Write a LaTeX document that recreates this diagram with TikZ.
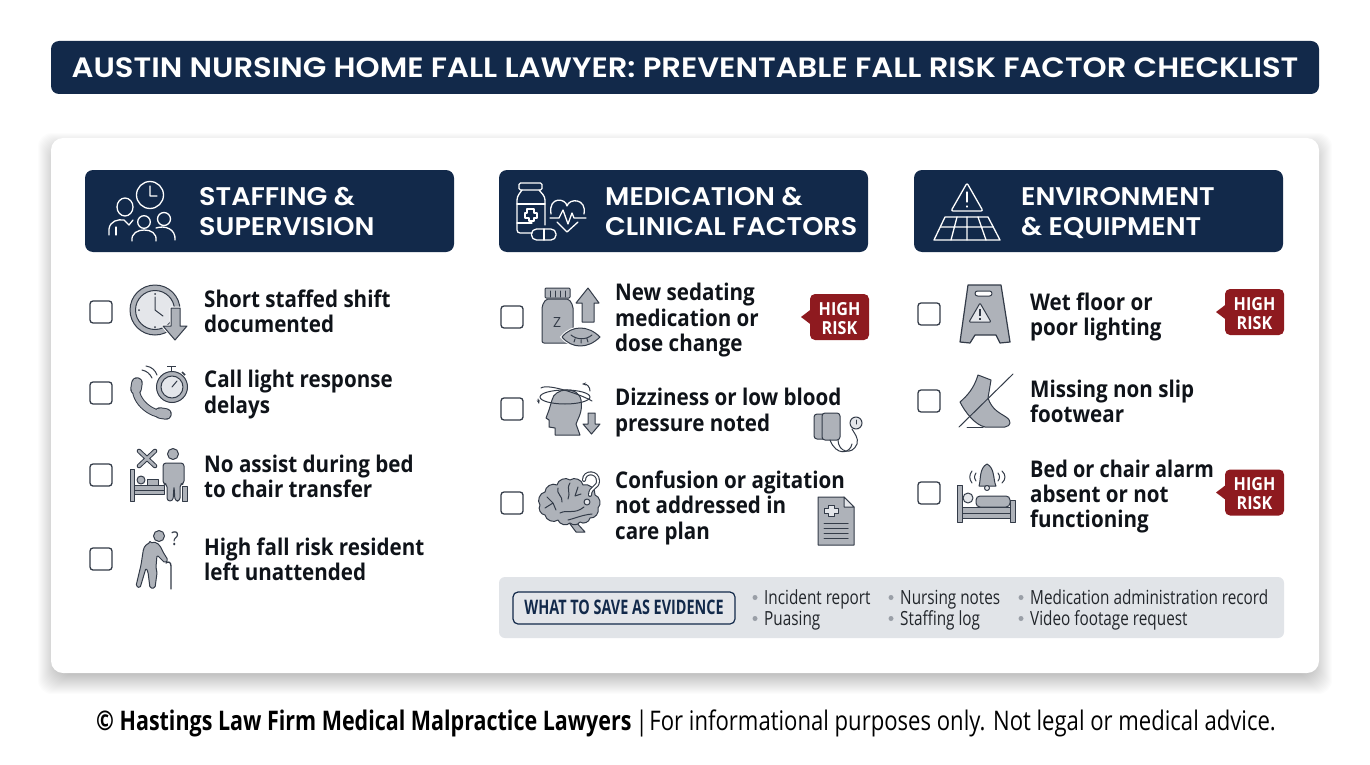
\documentclass[tikz,border=0pt]{standalone}
\usepackage{fontspec}
\setmainfont{Open Sans}
\newfontfamily\titlef[FakeStretch=1.095]{Poppins SemiBold}
\newfontfamily\headf[FakeStretch=1.06]{Poppins SemiBold}
\newfontfamily\bodyf[FakeStretch=0.895]{Open Sans}
\newfontfamily\bodyg[FakeStretch=0.865]{Open Sans}
\newfontfamily\narrowf[FakeStretch=0.785]{Open Sans}
\newfontfamily\labelf[FakeStretch=0.72]{Open Sans}
\newfontfamily\footf[FakeStretch=0.818]{Open Sans}
\newfontfamily\footb[FakeStretch=0.795]{Open Sans}
\newcommand{\lst}{\rule[-7.3pt]{0pt}{25.3pt}}
\newcommand{\hst}{\rule[-8pt]{0pt}{30pt}}
\usetikzlibrary{arrows.meta}
\definecolor{navy}{HTML}{12294A}
\definecolor{icg}{HTML}{AEB2B9}
\definecolor{icd}{HTML}{333B48}
\definecolor{icl}{HTML}{E4E6EA}
\definecolor{band}{HTML}{E1E4E8}
\definecolor{riskred}{HTML}{8E1A1F}
\definecolor{inkc}{HTML}{0F1319}
\definecolor{bult}{HTML}{9A9FA7}
\tikzset{
 titlebar/.style={fill=navy,rounded corners=8pt,inner sep=0,minimum width=1268pt,minimum height=53pt},
 headbar/.style={fill=navy,rounded corners=8pt,inner sep=0,minimum width=369pt,minimum height=82pt},
 headtext/.style={text=white,anchor=west,align=left,inner sep=0,font=\headf\fontsize{25.5}{30}\selectfont},
 itemtext/.style={text=inkc,anchor=west,align=left,inner sep=0,font=\bodyf\bfseries\fontsize{23}{25.3}\selectfont},
 checkbox/.style={draw=icd,line width=1.3pt,fill=white,rounded corners=3pt,minimum width=22pt,minimum height=22pt,inner sep=0},
 riskbadge/.style={fill=riskred,rounded corners=5pt,minimum width=59pt,minimum height=46pt,inner sep=0},
 risktext/.style={inner sep=0,text=white,align=center,font=\bodyf\bfseries\fontsize{18}{19}\selectfont},
 evtext/.style={text=inkc!92,anchor=base west,inner sep=0,font=\narrowf\fontsize{19.5}{20}\selectfont},
 evdot/.style={circle,fill=bult,minimum size=5pt,inner sep=0},
 ic/.style={draw=icd,fill=icg,line width=1pt,line join=round},
 icw/.style={draw=white,line width=1.3pt,line join=round,line cap=round},
 icl1/.style={draw=icd,line width=1pt,line cap=round,line join=round},
}
\begin{document}
\begin{tikzpicture}[x=1pt,y=1pt,yscale=-1]
\useasboundingbox (0,0) rectangle (1370,765);
\fill[white] (0,0) rectangle (1370,765);
% title
\node[titlebar] (title) at (685,67.5) {};
\node[text=white,inner sep=0,font=\titlef\fontsize{28}{30}\selectfont] (titletext) at (685,67.5) {AUSTIN NURSING HOME FALL LAWYER: PREVENTABLE FALL RISK FACTOR CHECKLIST};
% card with soft shadow
\foreach \s in {13,12,...,-8}{
 \fill[black,opacity=0.011,rounded corners=14pt] (51-\s,138-\s+8) rectangle (1319+\s,673+\s+8);
}
\node[fill=white,rounded corners=12pt,minimum width=1268pt,minimum height=535pt,inner sep=0] (card) at (685,405.5) {};
% headers
\node[headbar] (h1) at (269.5,211) {};
\node[headbar] (h2) at (683.5,211) {};
\node[headbar] (h3) at (1098.5,211) {};
\node[headtext] (h1t) at (199,213) {\hst STAFFING \&\\\hst SUPERVISION};
\node[headtext] (h2t) at (605,213) {\hst MEDICATION \&\\\hst CLINICAL FACTORS};
\node[headtext] (h3t) at (1021,213) {\hst ENVIRONMENT\\\hst \& EQUIPMENT};
% checkboxes
\foreach \n/\x/\y in {a/101/312,b/101/393,c/101/475,d/101/559,e/512/317,f/512/409,g/512/503,k/929/314,l/929/401,m/929/493}{
 \node[checkbox] (cb\n) at (\x,\y) {};
}
% item texts
\node[itemtext] (ta) at (204,314.7) {\lst Short staffed shift\\\lst documented};
\node[itemtext] (tb) at (204,395.2) {\lst Call light response\\\lst delays};
\node[itemtext] (tc) at (204,479.4) {\lst No assist during bed\\\lst to chair transfer};
\node[itemtext] (td) at (204,562.7) {\lst High fall risk resident\\\lst left unattended};
\node[itemtext] (te) at (615,320.7) {\lst New sedating\\\lst medication or\\\lst dose change};
\node[itemtext] (tf) at (615,413.2) {\lst Dizziness or low blood\\\lst pressure noted};
\node[itemtext] (tg) at (615,508.4) {\lst Confusion or agitation\\\lst not addressed in\\\lst care plan};
\node[itemtext] (tk) at (1030,317.7) {\lst Wet floor or\\\lst poor lighting};
\node[itemtext] (tl) at (1030,404.7) {\lst Missing non slip\\\lst footwear};
\node[itemtext] (tm) at (1030,497.2) {\lst {\bodyg\bfseries Bed or chair alarm}\\\lst absent or not\\\lst functioning};
% badges
\foreach \n/\x/\y in {1/839.5/317,2/1254.5/312,3/1254.5/492.5}{
 \fill[riskred] (\x-38.5,\y) -- (\x-28,\y-8) -- (\x-28,\y+8) -- cycle;
 \node[riskbadge] (rb\n) at (\x,\y) {};
 \node[risktext] (rt\n) at (\x,\y+1.5) {HIGH\\RISK};
}
% evidence band
\node[fill=band,rounded corners=6pt,minimum width=785pt,minimum height=61pt,inner sep=0] (evband) at (891.5,607.5) {};
\node[draw=navy,line width=1.2pt,fill=icl,rounded corners=5pt,minimum width=222pt,minimum height=32pt,inner sep=0] (evlabel) at (624,608) {};
\node[inner sep=0,text=navy,anchor=base,font=\labelf\bfseries\fontsize{20}{20}\selectfont] (evlabeltext) at (624,614.5) {WHAT TO SAVE AS EVIDENCE};
\foreach \n/\x/\y/\t in {p/764/604/Incident report,q/764/625/Puasing,r/900/604/Nursing notes,s/900/625/Staffing log,u/1030/604/Medication administration record,v/1030/625/Video footage request}{
 \node[evtext] (ev\n) at (\x,\y) {\t};
 \node[evdot] (dot\n) at (\x-9,\y-6.5) {};
}
% footer
\node[anchor=base west,inner sep=0,text=black,font=\fontsize{27}{30}\selectfont] (foot) at (96,730) {{\footb\bfseries © Hastings Law Firm Medical Malpractice Lawyers} \hspace{-3pt}{\footf |\hspace{-4pt} For informational purposes only. Not legal or medical advice.}};

% ---------- header icons
% staffing
\draw[icw] (150,195) circle (13.5) (150,186) -- (150,196) -- (157,196);
\draw[icw] (125,207) ellipse (8 and 9);
\draw[icw] (109,235) -- (109,229) .. controls (110,221) and (118,219) .. (124,220) -- (129,225) -- (133,220) ;
\draw[icw] (116,227) -- (116,235);
\draw[icw] (144,222) circle (6.3);
\draw[icw] (132,241) .. controls (131,233) and (138,230) .. (144,230) .. controls (151,230) and (157,233) .. (156,241);
\draw[icw] (164,219) circle (6.5);
\draw[icw] (156,228) .. controls (165,225) and (176,229) .. (175,240);
% medication
\draw[icw,rounded corners=1.5pt] (519,183) rectangle (542,190);
\draw[icw,rounded corners=3pt] (522,190) -- (517,197) -- (517,233) -- (532,233);
\draw[icw,rounded corners=3pt] (539,190) -- (545,197) -- (545,225);
\draw[icw] (517,204) -- (545,204) (517,223) -- (532,223);
\draw[icw] (527,209) -- (534,209) -- (534,213) -- (537,213) -- (537,218) -- (534,218) -- (534,221) -- (529,221) -- (529,218) -- (525,218) -- (525,213) -- (527,213) -- cycle;
\draw[icw,rounded corners=5pt] (531.5,229) rectangle (556,240);
\draw[icw] (544,229) -- (544,240);
\draw[icw] (551,214) .. controls (548,196) and (566,198) .. (567,206) .. controls (569,198) and (587,198) .. (584,214);
\draw[icw] (550,218) -- (559,218) -- (563,210) -- (568,224) -- (572,213) -- (574,218) -- (586,218);
\draw[icw] (557,222) -- (567,232) -- (578,222);
% environment
\draw[icw,rounded corners=2pt] (967,183) -- (983,211) -- (951,211) -- cycle;
\draw[icw] (967,192) -- (967,202) (967,206) -- (967,207);
\draw[icw] (945,217) -- (988,217) -- (1000,240) -- (934,240) -- cycle;
\draw[icw] (940.5,227) -- (993.5,227) (957,217) -- (951,240) (967,217) -- (967,240) (978,217) -- (986,240);

% ---------- item icons, column 1
% clock
\draw[ic,fill=icg] (155,310) circle (25);
\draw[ic,fill=icl] (155,310) circle (19.5);
\draw[icl1] (155,297) -- (155,310) -- (163,316);
\foreach \a/\b in {155/294,155/327,139/310,171/310}{\fill[icd] (\a,\b) circle (1);}
\draw[draw=white,line width=3pt,fill=icg,line join=round] (171,308) -- (180,308) -- (180,326) -- (187,326) -- (175,340) -- (163,326) -- (171,326) -- cycle;
\draw[ic] (171,308) -- (180,308) -- (180,326) -- (187,326) -- (175,340) -- (163,326) -- (171,326) -- cycle;
% call light
\draw[icd,line width=11.5pt,line cap=round] (137,383) -- (136,389);
\draw[icd,line width=11.5pt,line cap=round] (160,413) -- (166,414);
\draw[icd,line width=8pt,line cap=round] (137,383) .. controls (131,398) and (150,416) .. (166,414);
\draw[icg,line width=9.5pt,line cap=round] (137,383) -- (136,389);
\draw[icg,line width=9.5pt,line cap=round] (160,413) -- (166,414);
\draw[icg,line width=6pt,line cap=round] (137,383) .. controls (131,398) and (150,416) .. (166,414);
\draw[icl1] (142,370) .. controls (147,371) and (150,374) .. (152,378);
\draw[icl1] (146,366) .. controls (152,367) and (155,370) .. (157,375);
\draw[ic] (172,387) circle (15.5);
\draw[ic,fill=icl] (172,387) circle (11);
\draw[icl1] (172,387) -- (177,381);
\draw[icd,line width=1.5pt] (167,366.5) -- (176,366.5) (171.5,366.5) -- (171.5,371);
\draw[icd,line width=1.5pt] (182,372) -- (185,375);
% bed + person
\draw[ic] (130,469) rectangle (134,501);
\draw[ic] (134,490) rectangle (164,494);
\draw[ic] (141,480) circle (4);
\draw[ic] (147,479) rectangle (158,486);
\draw[ic] (134,485) rectangle (164,490);
\draw[draw=icd,line width=4.6pt,line cap=round] (139,451) -- (155,466) (155,451) -- (139,466);
\draw[draw=icg,line width=2.6pt,line cap=round] (139,451) -- (155,466) (155,451) -- (139,466);
\draw[ic] (173,454) circle (5.5);
\draw[ic,rounded corners=3pt] (163,463) -- (184,463) -- (184,484) -- (180,484) -- (180,501) -- (175,501) -- (174,486) -- (173,501) -- (167,501) -- (167,484) -- (163,484) -- cycle;
\draw[ic] (182,486) rectangle (187,501);
% elderly
\draw[ic] (159,536) circle (5.5);
\draw[ic,rounded corners=1.5pt] (150,543) .. controls (157,541) and (160,545) .. (163,552) -- (168,560) -- (165,563) -- (157,555) -- (156,567) -- (157,573) -- (155,588) -- (150,588) -- (148,572) -- (146,568) -- (140,588) -- (136,586) -- (141,565) -- (143,552) .. controls (144,546) and (147,544) .. (150,543) -- cycle;
\draw[icd,line width=1.3pt,line cap=round] (166,563) .. controls (168,561) and (171,562) .. (171,566) -- (171,589);
\node[inner sep=0,text=icd,font=\bodyf\fontsize{19}{20}\selectfont] (qm) at (175,539) {?};

% ---------- column 2
% medication
\draw[ic,rounded corners=2pt] (546,299) -- (542,306) -- (542,343) -- (573,343) -- (573,306) -- (569,299) -- cycle;
\draw[ic,rounded corners=1pt] (545,288) rectangle (570,298);
\draw[icl1] (550,291) -- (550,297) (555,291) -- (555,297) (560,291) -- (560,297) (565,291) -- (565,297);
\node[inner sep=0,text=icd,font=\fontsize{14}{14}\selectfont] (zz) at (557,323) {Z};
\draw[ic] (582,322) -- (582,303) -- (576,303) -- (588,288) -- (599,303) -- (594,303) -- (594,322) -- cycle;
\draw[draw=white,line width=3pt,fill=icg] (562,337) .. controls (572,325) and (588,325) .. (600,337) .. controls (588,349) and (572,349) .. (562,337) -- cycle;
\draw[ic] (562,337) .. controls (572,325) and (588,325) .. (600,337) .. controls (588,349) and (572,349) .. (562,337) -- cycle;
\draw[icl1] (571,335) .. controls (577,340) and (586,340) .. (592,335) (575,339) -- (574,342) (581,340) -- (581,343) (587,339) -- (588,342);
% dizzy
\draw[ic,fill=icg] (552,400) .. controls (554,388) and (578,385) .. (581,400) .. controls (583,412) and (578,418) .. (576,424) -- (580,435) -- (555,435) -- (555,428) -- (549,427) -- (549,420) -- (546,418) -- (549,410) -- cycle;
\draw[icl1] (565,397) ellipse (25 and 7);
\draw[icl1] (541,388) .. controls (548,383) and (582,395) .. (592,401);
\draw[icl1,-{Stealth[length=4pt]}] (538,399) -- (539,404);
\draw[icl1,-{Stealth[length=4pt]}] (590,391) .. controls (590,387) and (587,384) .. (582,384);
\draw[ic] (588,413) -- (595,413) -- (595,424) -- (600,424) -- (591.5,434) -- (583,424) -- (588,424) -- cycle;
% cuff
\draw[ic,rounded corners=3pt] (814,414) rectangle (830,439);
\draw[ic,rounded corners=3pt] (822,413) rectangle (840,440);
\draw[icl1] (838,440) .. controls (838,452) and (852,456) .. (857,444) .. controls (859,438) and (854,433) .. (852,429);
\draw[icl1] (830,440) .. controls (836,456) and (850,454) .. (852,444);
\draw[ic,fill=icl] (856,423) circle (6);
\draw[icl1] (856,420) -- (856,424);
% brain
\draw[ic] (574,520) -- (585,532) -- (576,532) -- (567,520) -- cycle;
\draw[ic] (540,505) to[bend right=60] (545,492) to[bend right=60] (557,485) to[bend right=60] (570,480) to[bend right=60] (583,485) to[bend right=60] (595,495) to[bend right=60] (598,508) to[bend right=60] (590,518) to[bend right=60] (580,522) to[bend right=50] (570,523) to[bend right=60] (558,520) to[bend right=60] (545,515) to[bend right=60] (540,505) -- cycle;
\draw[icl1] (553,503) -- (547,497) (553,503) -- (545,508) (553,503) -- (556,510)
 (558,488) .. controls (556,494) and (563,496) .. (562,502)
 (570,483) .. controls (566,489) and (571,493) .. (568,499)
 (578,487) -- (575,496) -- (581,494)
 (560,513) .. controls (568,509) and (574,515) .. (584,507)
 (568,520) .. controls (576,518) and (582,515) .. (592,514);
\draw[ic,fill=icl] (587,502) circle (3);
\draw[icd,line width=4pt,line cap=round] (584,480) .. controls (584,471) and (598,471) .. (598,481) .. controls (598,488) and (590,487) .. (590,495);
\draw[white,line width=1.8pt,line cap=round] (584,480) .. controls (584,471) and (598,471) .. (598,481) .. controls (598,488) and (590,487) .. (590,495);
% document
\draw[ic] (818,497) -- (844,497) -- (854,507) -- (854,545) -- (818,545) -- cycle;
\draw[ic,fill=icl] (844,497) -- (844,507) -- (854,507) -- cycle;
\draw[ic,fill=icl] (828,505) -- (834,505) -- (834,508) -- (838,508) -- (838,513) -- (834,513) -- (834,516) -- (828,516) -- (828,513) -- (824,513) -- (824,508) -- (828,508) -- cycle;
\draw[icl1] (824,523) -- (848,523) (824,528) -- (848,528) (824,533) -- (848,533) (824,538) -- (848,538);

% ---------- column 3
% wet floor sign
\draw[ic,line width=1.2pt] (968,285) -- (1001,285) -- (1010,342) -- (1000,343) -- (996,335) -- (975,335) -- (970,343) -- (960,342) -- cycle;
\draw[ic,fill=white,rounded corners=2.5pt] (975,291) rectangle (992,296);
\draw[ic,fill=icl,rounded corners=1pt] (980,303) -- (991,322) -- (969,322) -- cycle;
\draw[icd,line width=1.4pt] (980,309) -- (980,316) (980,318) -- (980,320);
% foot
\draw[ic] (978,375) -- (991,380) -- (988,398) .. controls (992,410) and (1000,413) .. (1006,417) .. controls (1012,421) and (1011,426) .. (1005,427) -- (985,427) .. controls (975,425) and (965,412) .. (960,402) .. controls (968,395) and (974,388) .. (978,375) -- cycle;
\draw[icl1] (1013,374) -- (959,427);
\draw[icl1] (967,427) -- (983,427);
% alarm bed
\draw[ic] (979,486) .. controls (981,480) and (979,468) .. (987,464) .. controls (995,468) and (993,480) .. (996,486) -- cycle;
\draw[ic,fill=icl] (987,488) circle (2.5);
\draw[icl1] (972,471) .. controls (969,475) and (969,479) .. (972,483) (976,473) .. controls (974,476) and (974,478) .. (976,481) (1002,471) .. controls (1006,475) and (1006,479) .. (1002,483) (998,473) .. controls (1000,476) and (1000,478) .. (998,481);
\draw[ic] (957,485) rectangle (962,522);
\draw[ic] (962,513) rectangle (1015,518);
\draw[ic] (1010,500) rectangle (1015,522);
\draw[ic] (962,507) rectangle (1010,513);
\draw[ic,fill=icl] (968,498) circle (5);
\draw[ic,rounded corners=4pt] (976,507) -- (976,496) -- (1010,496) -- (1010,507) -- cycle;
\end{tikzpicture}
\end{document}
